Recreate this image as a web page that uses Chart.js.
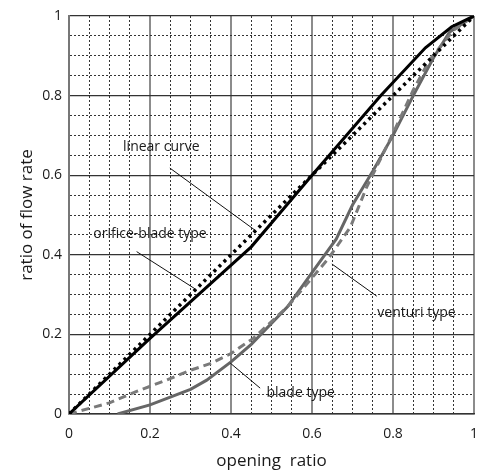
<!DOCTYPE html>
<html>
<head>
<meta charset="utf-8">
<title>Flow rate vs opening ratio</title>
<script src="https://cdn.jsdelivr.net/npm/chart.js@4.4.1/dist/chart.umd.min.js"></script>
<style>
  html, body { margin: 0; padding: 0; background: #fff; }
</style>
</head>
<body>
<canvas id="flowChart" width="480" height="471"></canvas>
<script>
"use strict";

// opening ratio (x) against ratio of flow rate (y), one pair of arrays per valve type
const linearX = [0, 1];
const linearY = [0, 1];

const orificeX = [0, 0.2, 0.45, 0.6, 0.77, 0.88, 0.945, 1];
const orificeY = [0, 0.19, 0.42, 0.6, 0.8, 0.92, 0.973, 1];

const venturiX = [0, 0.1, 0.17, 0.24, 0.3, 0.35, 0.4, 0.455, 0.54, 0.64, 0.695, 0.735, 0.8, 0.85, 0.89, 0.95, 1];
const venturiY = [0, 0.028, 0.058, 0.085, 0.11, 0.127, 0.152, 0.19, 0.27, 0.39, 0.47, 0.57, 0.705, 0.814, 0.889, 0.965, 1];

const bladeX = [0.12, 0.2, 0.3, 0.34, 0.4, 0.45, 0.54, 0.6, 0.66, 0.7, 0.75, 0.8, 0.85, 0.9, 0.94, 1];
const bladeY = [0, 0.023, 0.062, 0.085, 0.131, 0.175, 0.27, 0.355, 0.44, 0.525, 0.61, 0.7, 0.8, 0.895, 0.96, 1];

// curve names with leader lines, in axis units
const noteText = ['linear curve', 'orifice-blade type', 'venturi type', 'blade type'];
const noteAt = [[0.228, 0.671], [0.2, 0.453], [0.858, 0.254], [0.572, 0.053]];
const leaderFrom = [[0.249, 0.618], [0.167, 0.408], [0.649, 0.377], [0.398, 0.128]];
const leaderTo = [[0.459, 0.462], [0.315, 0.312], [0.76, 0.296], [0.472, 0.065]];

const FONT = '"Open Sans", "DejaVu Sans", sans-serif';
const INK = '#1a1a1a';

const toPoints = (xs, ys) => xs.map((v, i) => ({ x: v, y: ys[i] }));

// every 0.2 is a solid line, the 0.05 steps in between are dotted
const isMajor = v => Math.abs(v * 5 - Math.round(v * 5)) < 1e-6;
const majorCtx = c => !c.tick || isMajor(c.tick.value);

function tickLabel(v) {
  if (!isMajor(v)) return '';
  const r = Math.round(v * 5) / 5;
  return Number.isInteger(r) ? String(r) : r.toFixed(1);
}

const notesPlugin = {
  id: 'notes',
  afterDatasetsDraw(chart) {
    const { ctx, scales: { x, y } } = chart;
    ctx.save();
    ctx.strokeStyle = '#111';
    ctx.lineWidth = 1;
    leaderFrom.forEach((p, i) => {
      ctx.beginPath();
      ctx.moveTo(x.getPixelForValue(p[0]), y.getPixelForValue(p[1]));
      ctx.lineTo(x.getPixelForValue(leaderTo[i][0]), y.getPixelForValue(leaderTo[i][1]));
      ctx.stroke();
    });
    ctx.font = '14px ' + FONT;
    ctx.fillStyle = INK;
    ctx.textAlign = 'center';
    ctx.textBaseline = 'middle';
    noteText.forEach((t, i) => {
      ctx.fillText(t, x.getPixelForValue(noteAt[i][0]), y.getPixelForValue(noteAt[i][1]));
    });
    ctx.restore();
  }
};

function axis(opts) {
  return {
    type: 'linear',
    min: 0,
    max: 1,
    afterFit: opts.fit,
    ticks: {
      stepSize: 0.05,
      autoSkip: false,
      maxRotation: 0,
      padding: opts.tickPad,
      color: INK,
      font: { family: FONT, size: 14 },
      callback: tickLabel
    },
    grid: {
      drawTicks: false,
      color: c => majorCtx(c) ? opts.majorColor : '#333',
      lineWidth: c => majorCtx(c) ? opts.majorWidth : 1
    },
    border: {
      color: opts.borderColor,
      width: opts.borderWidth,
      dash: c => majorCtx(c) ? [] : [2, 2]
    },
    title: {
      display: true,
      text: opts.title,
      color: INK,
      font: { family: FONT, size: 17 },
      padding: opts.titlePad
    }
  };
}

const flowChart = new Chart(document.getElementById('flowChart').getContext('2d'), {
  type: 'line',
  data: {
    datasets: [
      { label: 'linear curve', data: toPoints(linearX, linearY), borderColor: '#000', borderWidth: 3.5, borderDash: [3, 4] },
      { label: 'orifice-blade type', data: toPoints(orificeX, orificeY), borderColor: '#000', borderWidth: 3 },
      { label: 'venturi type', data: toPoints(venturiX, venturiY), borderColor: '#7a7a7a', borderWidth: 3, borderDash: [8, 5] },
      { label: 'blade type', data: toPoints(bladeX, bladeY), borderColor: '#666', borderWidth: 3 }
    ]
  },
  options: {
    responsive: false,
    animation: false,
    elements: {
      point: { radius: 0 },
      line: { tension: 0, fill: false }
    },
    layout: { padding: { top: 16, right: 6, left: 0, bottom: 0 } },
    plugins: {
      legend: { display: false },
      tooltip: { enabled: false }
    },
    scales: {
      x: axis({
        // fixed axis band, and no extra room reserved for the end labels
        fit: s => { s.height = 57; s.paddingLeft = 0; s.paddingRight = 0; },
        tickPad: 12,
        majorColor: '#8c8c8c',
        majorWidth: 2,
        borderColor: '#333',
        borderWidth: 1.5,
        title: 'opening  ratio',
        titlePad: { top: 0, bottom: 0 }
      }),
      y: axis({
        fit: s => { s.width = 69; s.paddingTop = 0; s.paddingBottom = 0; },
        tickPad: 7,
        majorColor: '#333',
        majorWidth: 1.3,
        borderColor: '#777',
        borderWidth: 2,
        title: 'ratio of flow rate',
        titlePad: { top: 17, bottom: 0 }
      })
    }
  },
  plugins: [notesPlugin]
});
</script>
</body>
</html>
